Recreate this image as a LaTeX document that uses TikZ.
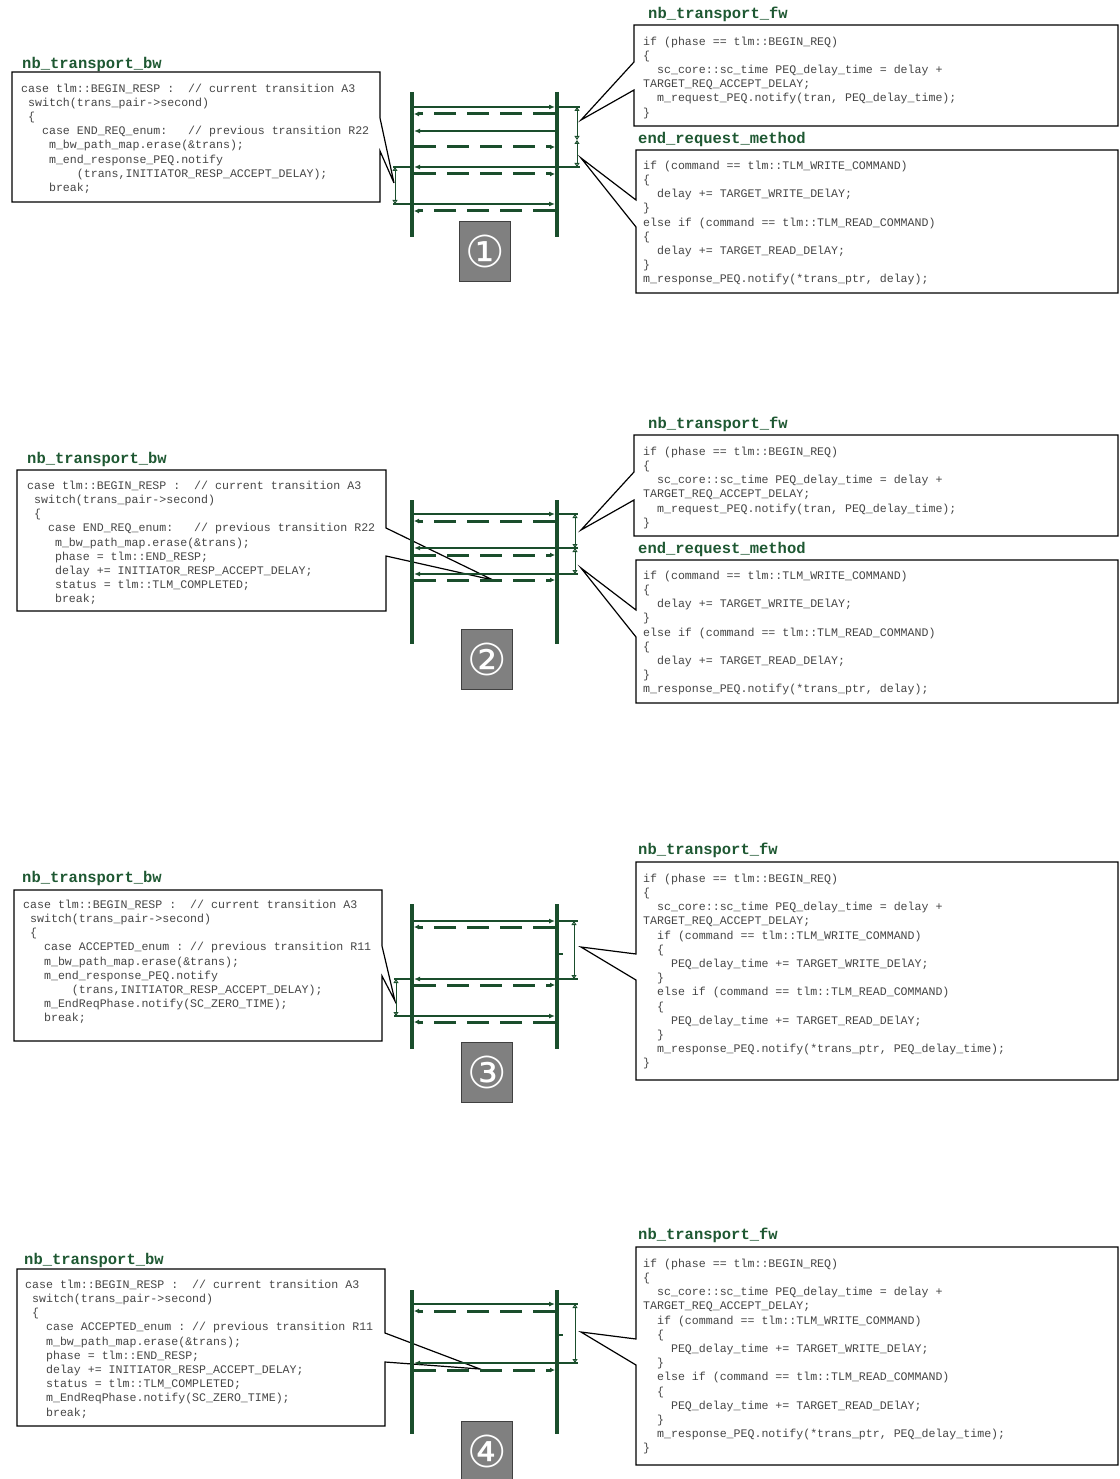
\documentclass[tikz,border=0pt]{standalone}
\usepackage{fontspec}
\setmonofont{Liberation Mono}
\newfontfamily\symfont{DejaVu Sans}
\usetikzlibrary{arrows.meta}
\definecolor{seqgreen}{RGB}{26,78,44}
\definecolor{hdrgreen}{RGB}{30,88,50}
\definecolor{codegray}{RGB}{70,70,70}
\definecolor{badgegray}{RGB}{128,128,128}
% horizontal indent of n monospaced characters
\newcommand\ind[1]{\hspace*{#1\dimexpr0.6em\relax}}
% fixed height of the first code line (top of node = first baseline - 10pt)
\newcommand\fl{\rule{0pt}{10pt}}
\begin{document}
\begin{tikzpicture}[x=1pt,y=-1pt,
  hdr/.style={anchor=west,inner sep=0,font=\fontsize{15.5}{18}\selectfont\ttfamily\bfseries,text=hdrgreen},
  code/.style={anchor=north west,inner sep=0,align=left,font=\fontsize{11.6}{14.2}\selectfont\ttfamily,text=codegray},
  callout/.style={draw=black,line width=1.2pt,fill=white,line join=miter},
  life/.style={seqgreen,line width=3.4pt},
  smsg/.style={seqgreen,line width=1.3pt,-{Latex[length=6pt,width=5pt]}},
  dmsg/.style={seqgreen,line width=3pt,dash pattern=on 22pt off 11pt,-{Latex[length=5pt,width=5pt]}},
  tick/.style={seqgreen,line width=1.3pt},
  span/.style={seqgreen,line width=1pt,{Triangle[length=4pt,width=5pt,fill=white]}-{Triangle[length=4pt,width=5pt,fill=white]}},
  badge/.style={draw=black!75,line width=1.2pt,fill=badgegray,anchor=north west,minimum width=51pt,minimum height=60pt,inner sep=0,font=\fontsize{44}{44}\selectfont\symfont,text=white},
]
\useasboundingbox (0,0) rectangle (1119,1479);
\clip (0,0) rectangle (1119,1479);

%================ 1 ================
% backward path callout
\node[hdr] (bwh1) at (22,64) {nb\_transport\_bw};
\coordinate (bwt1) at (394,183);
\draw[callout] (12,72) -- (380,72) -- (380,118) -- (bwt1) -- (380,151) -- (380,202) -- (12,202) -- cycle;
\node[code] (bwc1) at (21,82) {\fl case tlm::BEGIN\_RESP :\ind{2}// current transition A3\\
\ind{1}switch(trans\_pair->second)\\
\ind{1}\{\\
\ind{3}case END\_REQ\_enum:\ind{3}// previous transition R22\\
\ind{4}m\_bw\_path\_map.erase(\&trans);\\
\ind{4}m\_end\_response\_PEQ.notify\\
\ind{8}(trans,INITIATOR\_RESP\_ACCEPT\_DELAY);\\
\ind{4}break;};
% forward path callout
\node[hdr] (fwh1) at (648,14) {nb\_transport\_fw};
\coordinate (fwt1) at (581,120);
\draw[callout] (634,25) -- (1118,25) -- (1118,126) -- (634,126) -- (634,90) -- (fwt1) -- (634,62) -- cycle;
\node[code] (fwc1) at (643,35) {\fl if (phase == tlm::BEGIN\_REQ)\\
\{\\
\ind{2}sc\_core::sc\_time PEQ\_delay\_time = delay +\\
TARGET\_REQ\_ACCEPT\_DELAY;\\
\ind{2}m\_request\_PEQ.notify(tran, PEQ\_delay\_time);\\
\}};
% end request callout
\node[hdr] (erh1) at (638,139) {end\_request\_method};
\coordinate (ert1) at (581,158);
\draw[callout] (636,150) -- (1118,150) -- (1118,293) -- (636,293) -- (636,227) -- (ert1) -- (636,200) -- cycle;
\node[code] (erc1) at (643,159) {\fl if (command == tlm::TLM\_WRITE\_COMMAND)\\
\{\\
\ind{2}delay += TARGET\_WRITE\_DElAY;\\
\}\\
else if (command == tlm::TLM\_READ\_COMMAND)\\
\{\\
\ind{2}delay += TARGET\_READ\_DElAY;\\
\}\\
m\_response\_PEQ.notify(*trans\_ptr, delay);};
% sequence
\draw[life] (412,92) -- (412,237);
\draw[life] (557,92) -- (557,237);
\draw[smsg] (414,107) -- (555,107);
\draw[dmsg] (555,114) -- (414,114);
\draw[smsg] (555,131) -- (414,131);
\draw[dmsg] (414,147) -- (555,147);
\draw[smsg] (555,167) -- (414,167);
\draw[dmsg] (414,174) -- (555,174);
\draw[smsg] (414,204) -- (555,204);
\draw[dmsg] (555,211) -- (414,211);
\draw[tick] (558,107) -- (580,107);
\draw[tick] (558,167) -- (580,167);
\draw[span] (577,107) -- (577,140);
\draw[span] (577,140) -- (577,167);
\draw[tick] (393,167) -- (411,167);
\draw[tick] (393,204) -- (411,204);
\draw[span] (395,167) -- (395,204);
\node[badge] (b1) at (459,221) {①};

%================ 2 ================
\node[hdr] (bwh2) at (27,459) {nb\_transport\_bw};
\coordinate (bwt2) at (493,580);
\draw[callout] (17,470) -- (386,470) -- (386,528) -- (bwt2) -- (386,556) -- (386,611) -- (17,611) -- cycle;
\node[code] (bwc2) at (27,479) {\fl case tlm::BEGIN\_RESP :\ind{2}// current transition A3\\
\ind{1}switch(trans\_pair->second)\\
\ind{1}\{\\
\ind{3}case END\_REQ\_enum:\ind{3}// previous transition R22\\
\ind{4}m\_bw\_path\_map.erase(\&trans);\\
\ind{4}phase = tlm::END\_RESP;\\
\ind{4}delay += INITIATOR\_RESP\_ACCEPT\_DELAY;\\
\ind{4}status = tlm::TLM\_COMPLETED;\\
\ind{4}break;};
\node[hdr] (fwh2) at (648,424) {nb\_transport\_fw};
\coordinate (fwt2) at (581,530);
\draw[callout] (634,435) -- (1118,435) -- (1118,536) -- (634,536) -- (634,500) -- (fwt2) -- (634,472) -- cycle;
\node[code] (fwc2) at (643,445) {\fl if (phase == tlm::BEGIN\_REQ)\\
\{\\
\ind{2}sc\_core::sc\_time PEQ\_delay\_time = delay +\\
TARGET\_REQ\_ACCEPT\_DELAY;\\
\ind{2}m\_request\_PEQ.notify(tran, PEQ\_delay\_time);\\
\}};
\node[hdr] (erh2) at (638,549) {end\_request\_method};
\coordinate (ert2) at (581,568);
\draw[callout] (636,560) -- (1118,560) -- (1118,703) -- (636,703) -- (636,637) -- (ert2) -- (636,610) -- cycle;
\node[code] (erc2) at (643,569) {\fl if (command == tlm::TLM\_WRITE\_COMMAND)\\
\{\\
\ind{2}delay += TARGET\_WRITE\_DElAY;\\
\}\\
else if (command == tlm::TLM\_READ\_COMMAND)\\
\{\\
\ind{2}delay += TARGET\_READ\_DElAY;\\
\}\\
m\_response\_PEQ.notify(*trans\_ptr, delay);};
\draw[life] (412,500) -- (412,644);
\draw[life] (557,500) -- (557,644);
\draw[smsg] (414,514) -- (555,514);
\draw[dmsg] (555,521) -- (414,521);
\draw[smsg] (555,548) -- (414,548);
\draw[dmsg] (414,555) -- (555,555);
\draw[smsg] (555,574) -- (414,574);
\draw[dmsg] (414,580) -- (555,580);
\draw[tick] (558,514) -- (578,514);
\draw[tick] (558,548) -- (578,548);
\draw[tick] (558,574) -- (578,574);
\draw[span] (575,514) -- (575,548);
\draw[span] (575,548) -- (575,574);
\node[badge] (b2) at (461,629) {②};

%================ 3 ================
\node[hdr] (bwh3) at (22,878) {nb\_transport\_bw};
\coordinate (bwt3) at (395,1001);
\draw[callout] (14,890) -- (382,890) -- (382,946) -- (bwt3) -- (382,976) -- (382,1041) -- (14,1041) -- cycle;
\node[code] (bwc3) at (23,898) {\fl case tlm::BEGIN\_RESP :\ind{2}// current transition A3\\
\ind{1}switch(trans\_pair->second)\\
\ind{1}\{\\
\ind{3}case ACCEPTED\_enum : // previous transition R11\\
\ind{3}m\_bw\_path\_map.erase(\&trans);\\
\ind{3}m\_end\_response\_PEQ.notify\\
\ind{7}(trans,INITIATOR\_RESP\_ACCEPT\_DELAY);\\
\ind{3}m\_EndReqPhase.notify(SC\_ZERO\_TIME);\\
\ind{3}break;};
\node[hdr] (fwh3) at (638,850) {nb\_transport\_fw};
\coordinate (fwt3) at (581,947);
\draw[callout] (636,862) -- (1118,862) -- (1118,1080) -- (636,1080) -- (636,980) -- (fwt3) -- (636,954) -- cycle;
\node[code] (fwc3) at (643,872) {\fl if (phase == tlm::BEGIN\_REQ)\\
\{\\
\ind{2}sc\_core::sc\_time PEQ\_delay\_time = delay +\\
TARGET\_REQ\_ACCEPT\_DELAY;\\
\ind{2}if (command == tlm::TLM\_WRITE\_COMMAND)\\
\ind{2}\{\\
\ind{4}PEQ\_delay\_time += TARGET\_WRITE\_DElAY;\\
\ind{2}\}\\
\ind{2}else if (command == tlm::TLM\_READ\_COMMAND)\\
\ind{2}\{\\
\ind{4}PEQ\_delay\_time += TARGET\_READ\_DElAY;\\
\ind{2}\}\\
\ind{2}m\_response\_PEQ.notify(*trans\_ptr, PEQ\_delay\_time);\\
\}};
\draw[life] (412,904) -- (412,1049);
\draw[life] (557,904) -- (557,1049);
\draw[smsg] (414,921) -- (555,921);
\draw[dmsg] (555,927) -- (414,927);
\draw[smsg] (555,979) -- (414,979);
\draw[dmsg] (414,985) -- (555,985);
\draw[smsg] (414,1016) -- (555,1016);
\draw[dmsg] (555,1022) -- (414,1022);
\draw[tick] (558,921) -- (578,921);
\draw[tick] (558,979) -- (578,979);
\draw[tick] (558,954) -- (563,954);
\draw[span] (574,921) -- (574,979);
\draw[tick] (394,979) -- (411,979);
\draw[tick] (394,1016) -- (411,1016);
\draw[span] (396,979) -- (396,1016);
\node[badge] (b3) at (461,1042) {③};

%================ 4 ================
\node[hdr] (bwh4) at (24,1260) {nb\_transport\_bw};
\coordinate (bwt4) at (480,1369);
\draw[callout] (17,1269) -- (385,1269) -- (385,1333) -- (bwt4) -- (385,1362) -- (385,1426) -- (17,1426) -- cycle;
\node[code] (bwc4) at (25,1278) {\fl case tlm::BEGIN\_RESP :\ind{2}// current transition A3\\
\ind{1}switch(trans\_pair->second)\\
\ind{1}\{\\
\ind{3}case ACCEPTED\_enum : // previous transition R11\\
\ind{3}m\_bw\_path\_map.erase(\&trans);\\
\ind{3}phase = tlm::END\_RESP;\\
\ind{3}delay += INITIATOR\_RESP\_ACCEPT\_DELAY;\\
\ind{3}status = tlm::TLM\_COMPLETED;\\
\ind{3}m\_EndReqPhase.notify(SC\_ZERO\_TIME);\\
\ind{3}break;};
\node[hdr] (fwh4) at (638,1235) {nb\_transport\_fw};
\coordinate (fwt4) at (581,1332);
\draw[callout] (636,1247) -- (1118,1247) -- (1118,1465) -- (636,1465) -- (636,1365) -- (fwt4) -- (636,1339) -- cycle;
\node[code] (fwc4) at (643,1257) {\fl if (phase == tlm::BEGIN\_REQ)\\
\{\\
\ind{2}sc\_core::sc\_time PEQ\_delay\_time = delay +\\
TARGET\_REQ\_ACCEPT\_DELAY;\\
\ind{2}if (command == tlm::TLM\_WRITE\_COMMAND)\\
\ind{2}\{\\
\ind{4}PEQ\_delay\_time += TARGET\_WRITE\_DElAY;\\
\ind{2}\}\\
\ind{2}else if (command == tlm::TLM\_READ\_COMMAND)\\
\ind{2}\{\\
\ind{4}PEQ\_delay\_time += TARGET\_READ\_DElAY;\\
\ind{2}\}\\
\ind{2}m\_response\_PEQ.notify(*trans\_ptr, PEQ\_delay\_time);\\
\}};
\draw[life] (412,1290) -- (412,1434);
\draw[life] (557,1290) -- (557,1434);
\draw[smsg] (414,1304) -- (555,1304);
\draw[dmsg] (555,1311) -- (414,1311);
\draw[smsg] (555,1363) -- (414,1363);
\draw[dmsg] (414,1370) -- (555,1370);
\draw[tick] (558,1304) -- (578,1304);
\draw[tick] (558,1363) -- (578,1363);
\draw[tick] (558,1335) -- (563,1335);
\draw[span] (575,1304) -- (575,1363);
\node[badge] (b4) at (461,1421) {④};
\end{tikzpicture}
\end{document}
